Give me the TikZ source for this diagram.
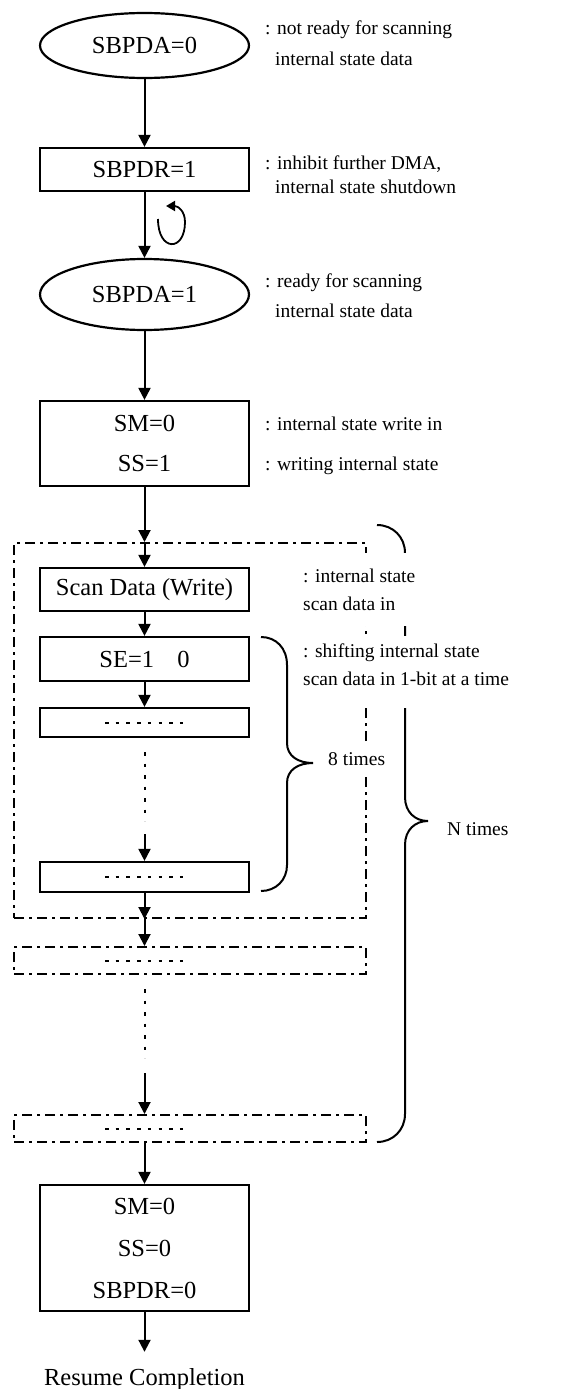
\documentclass[tikz,border=0pt]{standalone}
\usepackage{fontspec}
\setmainfont{Liberation Serif}
\usetikzlibrary{arrows.meta,shapes.geometric}
\begin{document}
\begin{tikzpicture}[x=1pt,y=-1pt,
  boxtext/.style={font=\fontsize{24.5}{28}\selectfont},
  procbox/.style={draw, line width=2.2pt, minimum width=209pt, inner sep=0pt, boxtext, align=center},
  termell/.style={draw, ellipse, line width=2.2pt, minimum width=209pt, inner sep=0pt, boxtext},
  ddbox/.style={draw, line width=2pt, dash pattern=on 10pt off 5pt on 3pt off 5pt, minimum width=352pt, inner sep=0pt},
  flow/.style={line width=2pt, -{Triangle[length=12pt,width=12pt]}},
  note/.style={font=\fontsize{19.5}{22}\selectfont, inner sep=0pt, anchor=base west},
  dotv/.style={line width=2pt, dash pattern=on 3.5pt off 8pt},
  innerdash/.style={line width=2pt, dash pattern=on 3.5pt off 7.2pt},
  bracepath/.style={line width=2pt}
]
\useasboundingbox (0,0) rectangle (563,1389);

% boxes
\node[termell, minimum height=65pt] (e1) at (144.5,45.5) {SBPDA=0};
\node[procbox, minimum height=43pt] (r1) at (144.5,169.5) {SBPDR=1};
\node[termell, minimum height=71pt] (e2) at (144.5,294.5) {SBPDA=1};
\node[procbox, minimum height=85pt, font=\fontsize{24.5}{40}\selectfont] (r2) at (144.5,443.5) {SM=0\\SS=1};

\node[ddbox, minimum height=375pt] (dd1) at (190,730.5) {};
\node[procbox, minimum height=43pt] (scan) at (144.5,589.5) {Scan Data (Write)};
\node[procbox, minimum height=44pt] (se) at (144.5,659) {SE=1\hspace{0.95em}0};
\node[procbox, minimum height=29pt] (d1) at (144.5,722.5) {};
\node[procbox, minimum height=30pt] (d2) at (144.5,877) {};
\node[ddbox, minimum height=27pt] (dd2) at (190,960.5) {};
\node[ddbox, minimum height=27pt] (dd3) at (190,1128.5) {};
\node[procbox, minimum height=126pt, font=\fontsize{24.5}{42}\selectfont] (r3) at (144.5,1248) {SM=0\\SS=0\\SBPDR=0};
\node[boxtext, inner xsep=0pt, inner ysep=16pt, anchor=base] (fin) at (144.5,1385) {Resume Completion};

% inner dashed lines
\draw[innerdash] (105,722.5) -- (183,722.5);
\draw[innerdash] (105,877) -- (183,877);
\draw[innerdash] (105,961) -- (183,961);
\draw[innerdash] (105,1128.5) -- (183,1128.5);

% connectors
\coordinate (v1a) at (144.5,752);
\coordinate (v1b) at (144.5,821);
\coordinate (a1) at (144.5,834);
\coordinate (v2a) at (144.5,989);
\coordinate (v2b) at (144.5,1058);
\coordinate (a2) at (144.5,1073);

\draw[flow] (e1) -- (r1);
\draw[flow] (r1) -- (e2);
\draw[flow] (e2) -- (r2);
\draw[flow] (r2.south) -- (r2.south |- dd1.north);
\draw[flow] (r2.south |- dd1.north) -- (scan.north);
\draw[flow] (scan) -- (se);
\draw[flow] (se) -- (d1);
\draw[dotv] (v1a) -- (v1b);
\draw[flow] (a1) -- (d2.north);
\draw[flow] (d2.south) -- (d2.south |- dd1.south);
\draw[flow] (d2.south |- dd1.south) -- (d2.south |- dd2.north);
\draw[dotv] (v2a) -- (v2b);
\draw[flow] (a2) -- (a2 |- dd3.north);
\draw[flow] (a2 |- dd3.south) -- (r3.north);
\draw[flow] (r3) -- (fin.north);

% loop arrow
\draw[line width=1.8pt, -{Triangle[length=9pt,width=10pt]}]
  (158,219) .. controls (158,252) and (185,252) .. (185,222)
  .. controls (185,211) and (178,206) .. (166,206);

% braces
\draw[bracepath] (261,637) .. controls (276,637) and (287,648) .. (287,665)
  -- (287,743) .. controls (287,756) and (298,763) .. (313,763)
  .. controls (298,763) and (287,770) .. (287,783)
  -- (287,865) .. controls (287,880) and (276,891) .. (261,891);
\draw[bracepath] (377,525) .. controls (393,525) and (405,537) .. (405,553)
  -- (405,797) .. controls (405,812) and (415,821) .. (428,821)
  .. controls (415,821) and (405,830) .. (405,845)
  -- (405,1114) .. controls (405,1130) and (393,1142) .. (377,1142);

% annotations
\node[note] (n1a) at (265,35) {: not ready for scanning};
\node[note] (n1b) at (275,66) {internal state data};
\node[note] (n2a) at (265,169) {: inhibit further DMA,};
\node[note] (n2b) at (275,193) {internal state shutdown};
\node[note] (n3a) at (265,287) {: ready for scanning};
\node[note] (n3b) at (275,317) {internal state data};
\node[note] (n4a) at (265,430) {: internal state write in};
\node[note] (n4b) at (265,470) {: writing internal state};

\fill[white] (298,553) rectangle (515,626);
\fill[white] (298,636) rectangle (515,708);
\node[note] (n5a) at (303,582) {: internal state};
\node[note] (n5b) at (303,610) {scan data in};
\node[note] (n6a) at (303,657) {: shifting internal state};
\node[note] (n6b) at (303,685) {scan data in 1-bit at a time};

\node[note, fill=white, inner xsep=1pt, inner ysep=10pt] (eight) at (327,765) {8 times};
\node[note] (ntimes) at (447,835) {N times};
\end{tikzpicture}
\end{document}
